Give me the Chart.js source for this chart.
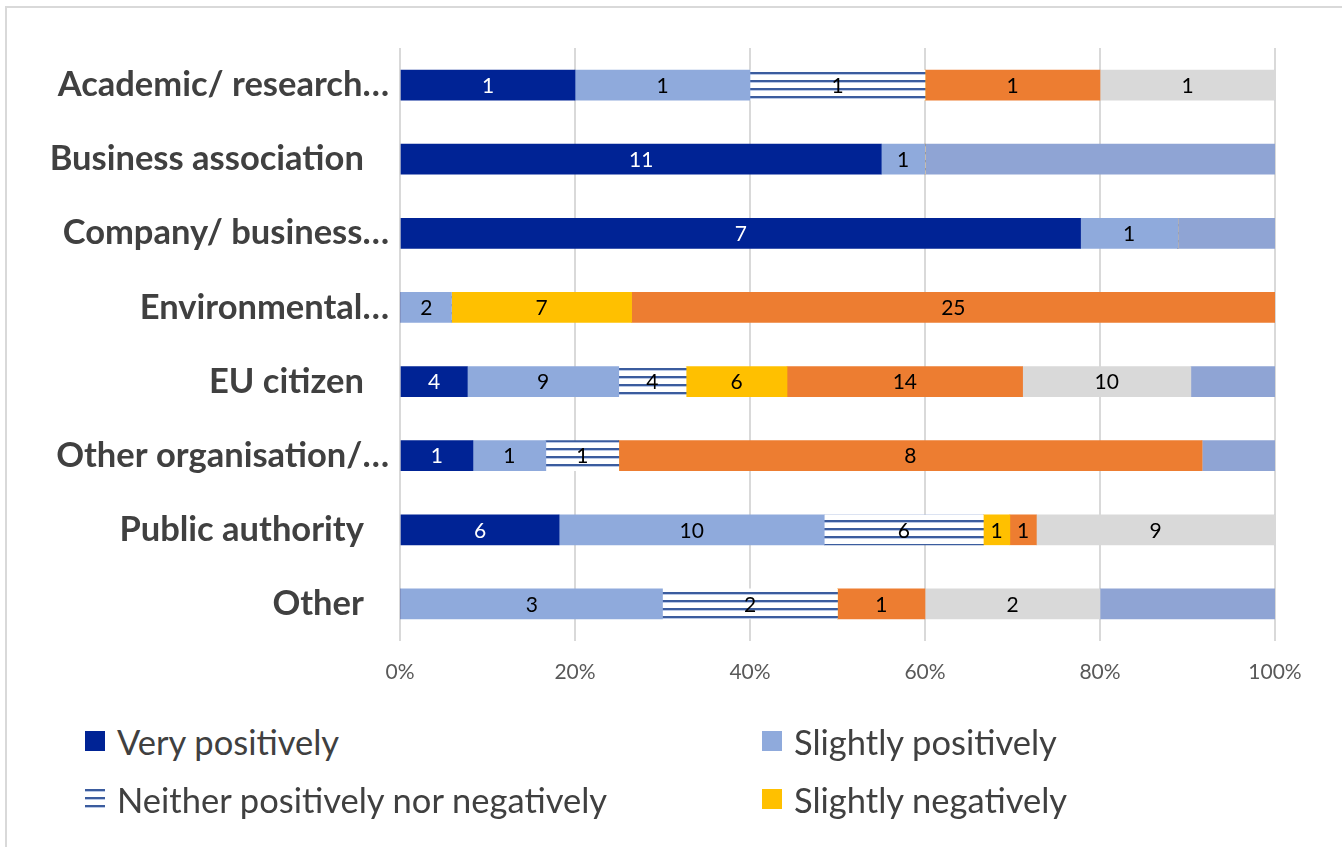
<!DOCTYPE html>
<html><head><meta charset="utf-8">
<script src="https://cdn.jsdelivr.net/npm/chart.js@4"></script>
<style>
html,body{margin:0;padding:0;background:#fff;overflow:hidden;width:1342px;height:847px;}
#frame{position:absolute;left:5px;top:6px;width:1400px;height:1000px;border-left:2px solid #d9d9d9;border-top:2px solid #d9d9d9;box-sizing:border-box;}
#c{position:absolute;left:0;top:0;}
#legend{position:absolute;left:85px;top:712px;height:116px;overflow:hidden;display:grid;grid-template-columns:677px 600px;grid-auto-rows:58px;font-family:Lato,sans-serif;font-size:34.5px;color:#404040;}
.item{display:flex;align-items:center;white-space:nowrap;}
.item canvas{width:20px;height:20px;margin-right:12px;flex:none;display:block;}
</style></head>
<body>
<div id="frame"></div>
<canvas id="c" width="1342" height="700"></canvas>
<div id="legend"></div>
<script>
const categories = ["Academic/ research…","Business association","Company/ business…","Environmental…","EU citizen","Other organisation/…","Public authority","Other"];
const seriesNames = ["Very positively","Slightly positively","Neither positively nor negatively","Slightly negatively","Very negatively","Don't know","No answer"];
const veryPositively     = [1,11,7,0,4,1,6,0];
const slightlyPositively = [1,1,1,2,9,1,10,3];
const neitherPosNeg      = [1,0,0,0,4,1,6,2];
const slightlyNegatively = [0,0,0,7,6,0,1,0];
const veryNegatively     = [1,0,0,25,14,8,1,1];
const dontKnow           = [1,0,0,0,10,0,9,2];
const noAnswer           = [0,8,1,0,5,1,0,2];
const tickLabels = ["0%","20%","40%","60%","80%","100%"];

const seriesCounts = [veryPositively,slightlyPositively,neitherPosNeg,slightlyNegatively,veryNegatively,dontKnow,noAnswer];
const totals = categories.map((_,i)=>seriesCounts.reduce((s,a)=>s+a[i],0));

function stripePattern(){
  const c=document.createElement('canvas'); c.width=8; c.height=8;
  const g=c.getContext('2d');
  g.fillStyle='#ffffff'; g.fillRect(0,0,8,8);
  g.fillStyle='#3b5c9e'; g.fillRect(0,0,8,2);
  g.fillStyle='#b9c8e6'; g.fillRect(0,2,8,1);
  return g.createPattern(c,'repeat');
}
const colors = ['#002395','#8faadc',stripePattern(),'#ffc000','#ed7d31','#d9d9d9','#8fa4d4'];
const labelColors = ['#ffffff','#000000','#000000','#000000','#000000','#000000',null];

const datasets = seriesNames.map((name,k)=>({
  label:name,
  counts:seriesCounts[k],
  data:seriesCounts[k].map((v,i)=>v/totals[i]*100),
  backgroundColor:colors[k],
  borderWidth:0,
  barThickness:30,
  labelColor:labelColors[k]
}));

const segLabels = {
  id:'segLabels',
  afterDatasetsDraw(chart){
    const ctx=chart.ctx; ctx.save();
    ctx.font='21px Lato'; ctx.textAlign='center'; ctx.textBaseline='middle';
    chart.data.datasets.forEach((ds,di)=>{
      if(!ds.labelColor) return;
      const meta=chart.getDatasetMeta(di);
      meta.data.forEach((el,i)=>{
        const v=ds.counts[i]; if(!v) return;
        const p=el.getProps(['x','base','y'],true);
        ctx.fillStyle=ds.labelColor;
        ctx.fillText(String(v),(p.x+p.base)/2,p.y+1);
      });
    });
    ctx.restore();
  }
};

const chart = new Chart(document.getElementById('c'),{
  type:'bar',
  data:{labels:categories,datasets},
  plugins:[segLabels],
  options:{
    responsive:false,animation:false,devicePixelRatio:1,
    indexAxis:'y',
    layout:{padding:{top:48,right:67,left:0,bottom:0}},
    plugins:{legend:{display:false},tooltip:{enabled:false}},
    scales:{
      x:{stacked:true,min:0,max:100,
        ticks:{stepSize:20,callback:(v,i)=>tickLabels[i],color:'#595959',font:{family:'Lato',size:21},padding:19,maxRotation:0},
        grid:{color:'#d9d9d9',lineWidth:2,drawTicks:false},
        border:{display:false},
        afterFit:(s)=>{s.height=59;}
      },
      y:{stacked:true,
        ticks:{color:'#404040',font:{family:'Lato',size:34.5,weight:'bold'},padding:11,
          callback:(v,i)=>{const l=categories[i]; return l.endsWith('…')?l:l+'   ';}},
        grid:{display:false,drawTicks:false},
        border:{display:false},
        afterFit:(s)=>{s.width=400;}
      }
    }
  }
});

// HTML legend built from the chart's own legend items
const legendEl=document.getElementById('legend');
const items=chart.options.plugins.legend.labels.generateLabels(chart);
items.forEach(it=>{
  const d=document.createElement('div'); d.className='item';
  const m=document.createElement('canvas'); m.width=20; m.height=20;
  const g=m.getContext('2d'); g.fillStyle=it.fillStyle; g.fillRect(0,0,20,20);
  const t=document.createElement('span'); t.textContent=it.text;
  d.appendChild(m); d.appendChild(t); legendEl.appendChild(d);
});
</script>
</body></html>
